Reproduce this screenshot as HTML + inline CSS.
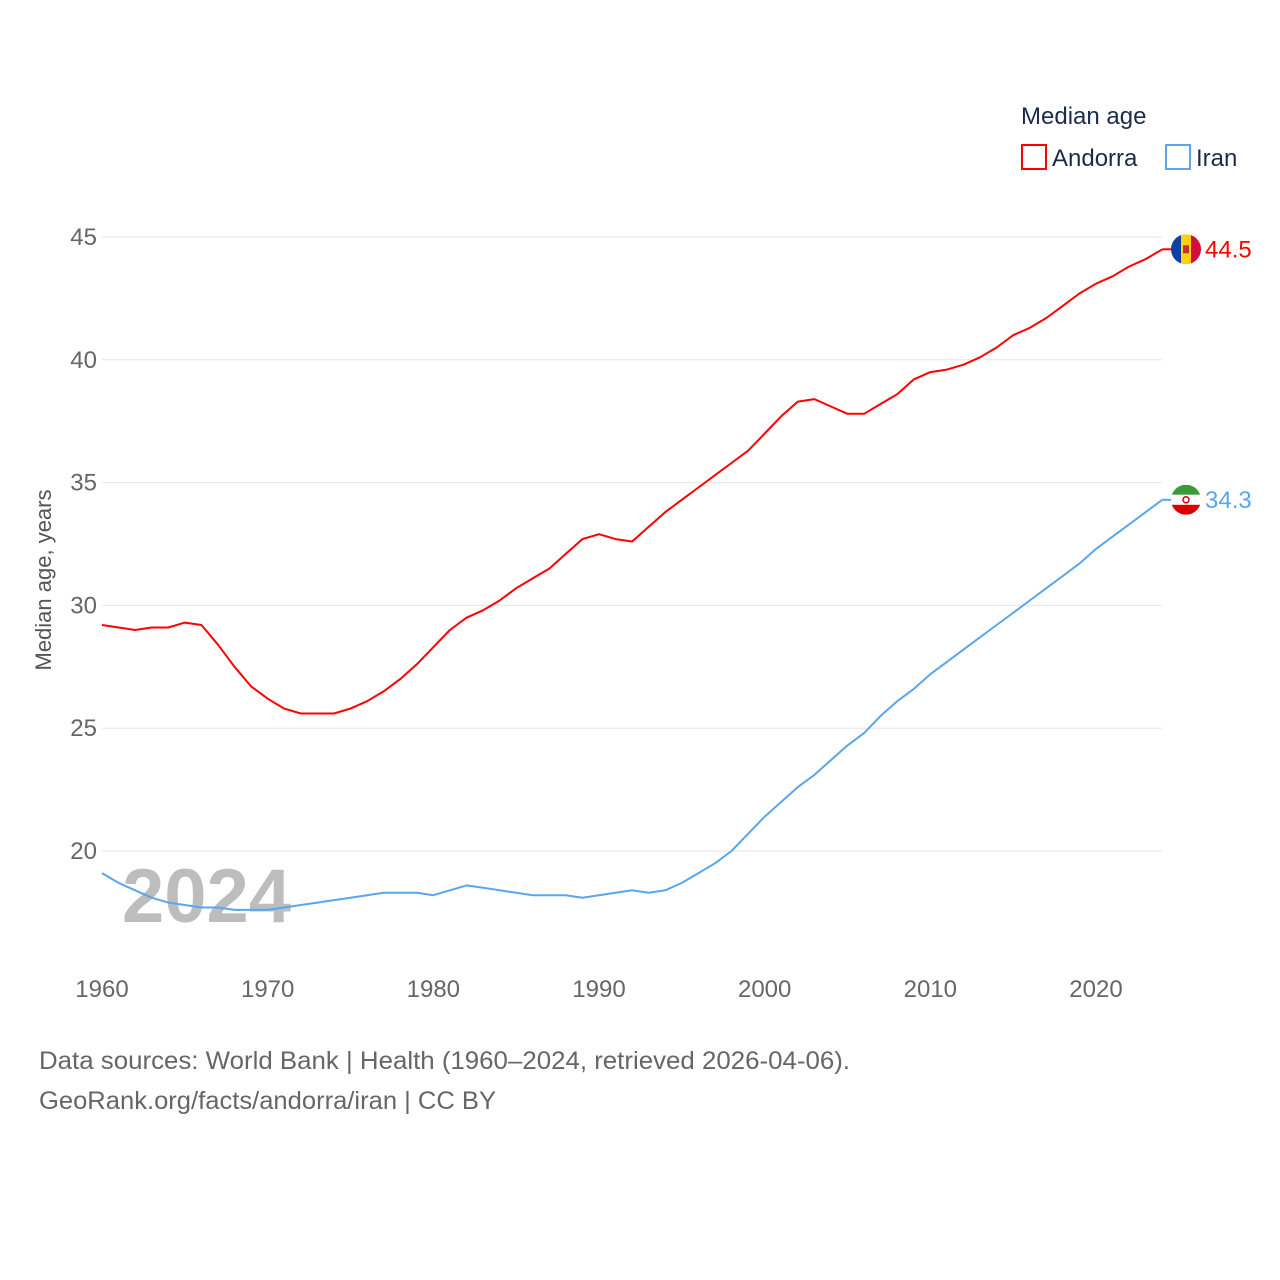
<!DOCTYPE html>
<html><head><meta charset="utf-8"><style>
html,body{margin:0;padding:0;background:#fff;width:1280px;height:1280px;overflow:hidden}
svg{font-family:"Liberation Sans",sans-serif}
</style></head><body>
<svg id="chart" width="1280" height="1280" viewBox="0 0 1280 1280" xmlns="http://www.w3.org/2000/svg">
<g id="grid"></g>
<g id="yticks"></g>
<g id="xticks"></g>
<text x="122" y="922" font-size="76" font-weight="bold" fill="#bdbdbd">2024</text>
<g id="series"></g>
<text transform="translate(51,580) rotate(-90)" text-anchor="middle" font-size="22" fill="#555">Median age, years</text>
<text x="1021" y="124" font-size="24" fill="#1d2b4a">Median age</text>
<rect x="1022" y="145" width="24" height="24" fill="none" stroke="#ff0000" stroke-width="2"/>
<text x="1052" y="166" font-size="24" fill="#1d2b4a">Andorra</text>
<rect x="1166" y="145" width="24" height="24" fill="none" stroke="#5aa6ec" stroke-width="2"/>
<text x="1196" y="166" font-size="24" fill="#1d2b4a">Iran</text>
<g id="flags"></g>
<text x="39" y="1069" font-size="25" fill="#666" textLength="811" lengthAdjust="spacingAndGlyphs">Data sources: World Bank | Health (1960–2024, retrieved 2026-04-06).</text>
<text x="39" y="1109" font-size="25" fill="#666" textLength="457" lengthAdjust="spacingAndGlyphs">GeoRank.org/facts/andorra/iran | CC BY</text>
</svg>
<script>
const years=[];for(let y=1960;y<=2024;y++)years.push(y);
const andorra=[29.2,29.1,29.0,29.1,29.1,29.3,29.2,28.4,27.5,26.7,26.2,25.8,25.6,25.6,25.6,25.8,26.1,26.5,27.0,27.6,28.3,29.0,29.5,29.8,30.2,30.7,31.1,31.5,32.1,32.7,32.9,32.7,32.6,33.2,33.8,34.3,34.8,35.3,35.8,36.3,37.0,37.7,38.3,38.4,38.1,37.8,37.8,38.2,38.6,39.2,39.5,39.6,39.8,40.1,40.5,41.0,41.3,41.7,42.2,42.7,43.1,43.4,43.8,44.1,44.5];
const iran=[19.1,18.7,18.4,18.1,17.9,17.8,17.7,17.7,17.6,17.6,17.6,17.7,17.8,17.9,18.0,18.1,18.2,18.3,18.3,18.3,18.2,18.4,18.6,18.5,18.4,18.3,18.2,18.2,18.2,18.1,18.2,18.3,18.4,18.3,18.4,18.7,19.1,19.5,20.0,20.7,21.4,22.0,22.6,23.1,23.7,24.3,24.8,25.5,26.1,26.6,27.2,27.7,28.2,28.7,29.2,29.7,30.2,30.7,31.2,31.7,32.3,32.8,33.3,33.8,34.3];
const yTicks=[20,25,30,35,40,45];
const xTicks=[1960,1970,1980,1990,2000,2010,2020];
const NS="http://www.w3.org/2000/svg";
const x=v=>102+(v-1960)*(994/60);
const y=v=>851-(v-20)*(614/25);
function mk(t,a,p){const e=document.createElementNS(NS,t);for(const k in a)e.setAttribute(k,a[k]);p.appendChild(e);return e;}
const grid=document.getElementById('grid'),yt=document.getElementById('yticks'),xt=document.getElementById('xticks');
yTicks.forEach(v=>{
 const l=mk('line',{x1:102,x2:1162,y1:y(v),y2:y(v),stroke:'#e6e6e6','stroke-width':1},grid);
 
 
 const t=mk('text',{x:97,y:y(v)+8,'text-anchor':'end','font-size':24,fill:'#666'},yt);t.textContent=v;
 
 
});
xTicks.forEach(v=>{
 const t=mk('text',{x:x(v),y:997,'text-anchor':'middle','font-size':24,fill:'#666'},xt);t.textContent=v;
 
 
});
const ser=document.getElementById('series');
[[andorra,'#ff0000','andorra'],[iran,'#5aa6ec','iran']].forEach(([d,c,n])=>{
 const p=mk('path',{d:d.map((v,i)=>(i?'L':'M')+x(years[i]).toFixed(1)+','+y(v).toFixed(1)).join(''),fill:'none',stroke:c,'stroke-width':2,'stroke-linejoin':'round'},ser);
 
 
 const last=d[d.length-1],ly=y(last);
 const ln=mk('line',{x1:x(2024),x2:1172,y1:ly,y2:ly,stroke:c,'stroke-width':2},ser);
 
 
 const t=mk('text',{x:1205,y:ly+8,'font-size':24,fill:c},ser);t.textContent=last.toFixed(1);
 
 
});
const fl=document.getElementById('flags');
function flag(n,cy,parts){
 const g=mk('g',{},fl);
 
 
 const id='clip-'+n;const cp=mk('clipPath',{id:id},g);mk('circle',{cx:1186,cy:cy,r:15},cp);
 const inner=mk('g',{'clip-path':'url(#'+id+')'},g);
 parts.forEach(p=>mk('rect',Object.assign({},p),inner));
 return inner;
}
const ay=y(andorra[andorra.length-1]);
const a=flag('andorra',ay,[{x:1171,y:ay-15,width:10,height:30,fill:'#1040a0'},{x:1181,y:ay-15,width:10,height:30,fill:'#fed00f'},{x:1191,y:ay-15,width:10,height:30,fill:'#d0103a'}]);
mk('rect',{x:1183,y:ay-4,width:6,height:8,fill:'#c7302a'},a);
const iy=y(iran[iran.length-1]);
const ir=flag('iran',iy,[{x:1171,y:iy-15,width:30,height:10,fill:'#3a9a3a'},{x:1171,y:iy-5,width:30,height:10,fill:'#fff'},{x:1171,y:iy+5,width:30,height:10,fill:'#da0000'}]);
mk('circle',{cx:1186,cy:iy,r:3,fill:'none',stroke:'#da0000','stroke-width':1.5},ir);
</script>
</body></html>
